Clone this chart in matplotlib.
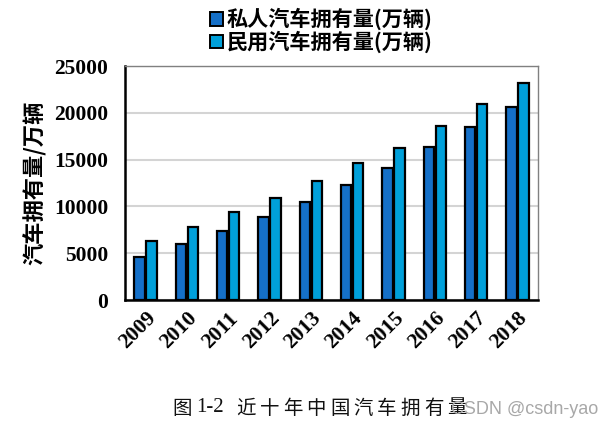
import matplotlib
matplotlib.use("Agg")
import matplotlib.pyplot as plt
import numpy as np
from matplotlib.patches import Patch

years = ["2009", "2010", "2011", "2012", "2013", "2014", "2015", "2016", "2017", "2018"]
private_cars = [4575, 5939, 7327, 8838, 10501, 12339, 14099, 16330, 18515, 20575]
civil_cars = [6281, 7802, 9356, 10933, 12670, 14598, 16284, 18574, 20907, 23231]
series_names = ["私人汽车拥有量(万辆)", "民用汽车拥有量(万辆)"]
yticks = [0, 5000, 10000, 15000, 20000, 25000]
ylabel = "汽车拥有量/万辆"
caption_prefix = "图"
caption_num = "1-2"
caption_body = "近十年中国汽车拥有量"
watermark = "CSDN @csdn-yao"

c_private = "#1570c8"
c_civil = "#00a0da"

W, H = 612, 438
fig = plt.figure(figsize=(6.12, 4.38), dpi=100)
ax = fig.add_axes([125 / W, 1 - 300 / H, 413 / W, 234 / H])

x = np.arange(len(years))
w = 0.25
off = 0.145
ax.bar(x - off, private_cars, w, color=c_private, edgecolor="black", linewidth=1.6, zorder=3)
ax.bar(x + off, civil_cars, w, color=c_civil, edgecolor="black", linewidth=1.6, zorder=3)

ax.set_xlim(-0.5, len(years) - 0.5)
ax.set_ylim(0, 25000)
ax.set_yticks(yticks)
ax.set_yticklabels([str(v) for v in yticks], fontfamily="Liberation Serif", fontweight="bold", fontsize=15.5)
ax.set_xticks(x)
ax.set_xticklabels(years, rotation=45, ha="right", rotation_mode="anchor",
                   fontfamily="Liberation Serif", fontweight="bold", fontsize=15.5)
ax.tick_params(axis="y", length=0, pad=12)
ax.tick_params(axis="x", length=0, pad=6)
ax.yaxis.grid(True, color="#d4d4d4", linewidth=1.5, linestyle="-", zorder=0)
ax.set_axisbelow(True)

for s in ["left", "bottom"]:
    ax.spines[s].set_color("black")
    ax.spines[s].set_linewidth(1.8)
for s in ["top", "right"]:
    ax.spines[s].set_color("#808080")
    ax.spines[s].set_linewidth(1.0)

ax.set_ylabel(ylabel, fontfamily="Noto Sans CJK SC", fontweight="bold", fontsize=16, labelpad=5)

handles = [Patch(facecolor=c_private, edgecolor="black", linewidth=1.4),
           Patch(facecolor=c_civil, edgecolor="black", linewidth=1.4)]
fig.legend(handles, series_names, loc="upper center", bbox_to_anchor=(0.525, 1.025),
           frameon=False, ncol=1, handlelength=0.6, handleheight=0.6, handletextpad=0.2,
           labelspacing=0.02, prop={"family": "Noto Sans CJK SC", "weight": "bold", "size": 15.2})

# caption, with the wide character spacing of the original
cy = 1 - 408 / H
fig.text(172 / W, cy, caption_prefix, fontfamily="Noto Sans CJK SC", fontsize=14,
         ha="left", va="center", color="#111111")
fig.text(196 / W, cy, caption_num, fontfamily="Liberation Serif", fontsize=15,
         ha="left", va="center", color="#111111")
for i, ch in enumerate(caption_body):
    fig.text((236 + 23.5 * i) / W, cy, ch, fontfamily="Noto Sans CJK SC", fontsize=14,
             ha="left", va="center", color="#111111")
fig.text(598 / W, 1 - 410 / H, watermark, fontfamily="Liberation Sans", fontsize=13, ha="right",
         va="center", color="#a8a8a8")

fig.savefig("out.png", dpi=100)
